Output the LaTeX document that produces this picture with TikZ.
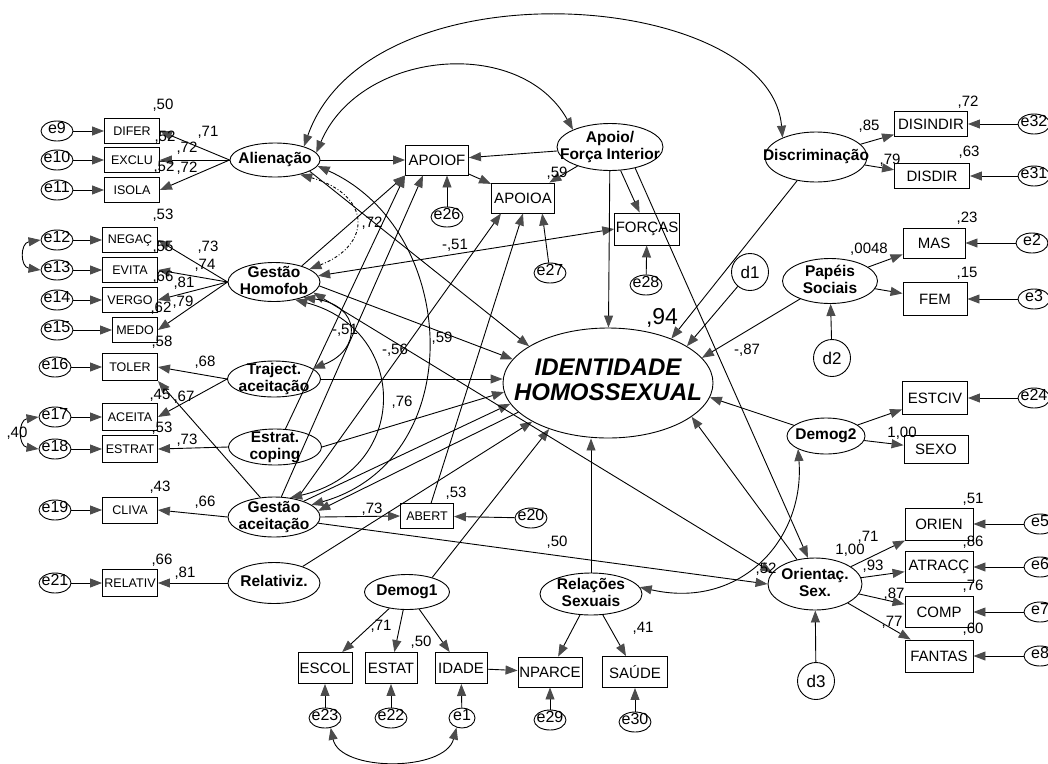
\documentclass[tikz,border=0pt]{standalone}
\usepackage{fontspec}
\setmainfont{Liberation Sans}
\usetikzlibrary{arrows.meta,positioning,shapes.geometric,calc}
\newcommand{\fsz}[1]{\fontsize{#1}{#1}\selectfont}
\newcommand{\inl}[1]{\makebox[0pt]{\smash{\raisebox{-.25em}{\begin{tabular}{@{}c@{}}#1\end{tabular}}}}}

\begin{document}
\begin{tikzpicture}[x=1pt, y=-1pt, line width=0.9pt,
  obs/.style={draw, rectangle, inner sep=1pt, minimum width=55pt, minimum height=25pt, font=\fsz{12.5}},
  wobs/.style={draw, rectangle, inner sep=1pt, minimum width=64pt, minimum height=31pt, font=\fsz{15}},
  lat/.style={draw, ellipse, inner sep=0pt, font=\bfseries\fontsize{15.5}{17.5}\selectfont},
  err/.style={draw, ellipse, inner sep=0pt, minimum width=32pt, minimum height=20pt, font=\fsz{16}},
  dist/.style={draw, circle, inner sep=0pt, minimum size=37pt, font=\fsz{17}},
  num/.style={inner sep=0pt, font=\fsz{15}},
  arr/.style={-{Triangle[length=12pt,width=9pt,color=black!70]}},
  dbl/.style={{Triangle[length=12pt,width=9pt,color=black!70]}-{Triangle[length=12pt,width=9pt,color=black!70]}}
]
\useasboundingbox (0,0) rectangle (1048,763);

% left indicators
\node[err] (e9) at (57,131) {\inl{e9}};
\node[err] (e10) at (57,160) {\inl{e10}};
\node[err] (e11) at (57,190) {\inl{e11}};
\node[err] (e12) at (57,240) {\inl{e12}};
\node[err] (e13) at (57,270) {\inl{e13}};
\node[err] (e14) at (57,300) {\inl{e14}};
\node[err] (e15) at (57,330) {\inl{e15}};
\node[err] (e16) at (55,367) {\inl{e16}};
\node[err] (e17) at (55,417) {\inl{e17}};
\node[err] (e18) at (55,449) {\inl{e18}};
\node[err] (e19) at (55,510) {\inl{e19}};
\node[err] (e21) at (55,583) {\inl{e21}};

\node[obs] (difer) at (132,131) {DIFER};
\node[obs] (exclu) at (132,160) {EXCLU};
\node[obs] (isola) at (132,190) {ISOLA};
\node[obs] (negac) at (130,240) {NEGAÇ};
\node[obs] (evita) at (130,270) {EVITA};
\node[obs] (vergo) at (130,300) {VERGO};
\node[obs, minimum width=45pt] (medo) at (135,330) {MEDO};
\node[obs, minimum height=27pt] (toler) at (130,367) {TOLER};
\node[obs, minimum height=27pt] (aceita) at (130,417) {ACEITA};
\node[obs, minimum height=27pt] (estrat) at (130,449) {ESTRAT};
\node[obs, minimum height=26pt] (cliva) at (130,510) {CLIVA};
\node[obs, minimum height=27pt] (relativ) at (130,583) {RELATIV};

\node[lat, minimum width=90pt, minimum height=34pt] (alien) at (275,160) {\inl{Alienação}};
\node[lat, minimum width=92pt, minimum height=39pt] (gesthom) at (274,282) {\inl{Gestão\\Homofob}};
\node[lat, minimum width=93pt, minimum height=36pt] (traj) at (274,379) {\inl{Traject.\\aceitação}};
\node[lat, minimum width=93pt, minimum height=36pt] (estcop) at (275,447) {\inl{Estrat.\\coping}};
\node[lat, minimum width=92pt, minimum height=40pt] (gestac) at (274,517) {\inl{Gestão\\aceitação}};
\node[lat, minimum width=92pt, minimum height=41pt] (relz) at (274,583) {\inl{Relativiz.}};

% middle
\node[wobs, minimum width=63pt, minimum height=30pt] (apoiof) at (437,160) {APOIOF};
\node[err] (e26) at (447,217) {\inl{e26}};
\node[wobs, minimum width=63pt, minimum height=30pt] (apoioa) at (523,198) {APOIOA};
\node[err] (e27) at (550,273) {\inl{e27}};
\node[lat, minimum width=106pt, minimum height=47pt] (apoio) at (610,147) {\inl{Apoio/\\Força Interior}};
\node[wobs, minimum width=63pt, minimum height=32pt] (forcas) at (647,229) {FORÇAS};
\node[err] (e28) at (646,285) {\inl{e28}};
\node[lat, minimum width=210pt, minimum height=110pt, font=\bfseries\itshape\fontsize{24}{25}\selectfont] (ident) at (608,383) {\inl{IDENTIDADE\\HOMOSSEXUAL}};
\node[obs, minimum width=53pt] (abert) at (427,516) {ABERT};
\node[err] (e20) at (531,518) {\inl{e20}};

% right
\node[lat, minimum width=102pt, minimum height=50pt] (disc) at (816,157) {\inl{Discriminação}};
\node[wobs, minimum width=73pt, minimum height=25pt] (disindir) at (931,124) {DISINDIR};
\node[wobs, minimum width=75pt, minimum height=25pt] (disdir) at (932,176) {DISDIR};
\node[err] (e32) at (1034,124) {\inl{e32}};
\node[err] (e31) at (1034,176) {\inl{e31}};
\node[wobs, minimum width=62pt, minimum height=30pt] (mas) at (934,243) {MAS};
\node[err] (e2) at (1032,243) {\inl{e2}};
\node[lat, minimum width=95pt, minimum height=45pt] (papeis) at (830,281) {\inl{Papéis\\Sociais}};
\node[wobs, minimum width=64pt, minimum height=33pt] (fem) at (935,299) {FEM};
\node[err] (e3) at (1034,299) {\inl{e3}};
\node[dist] (d1) at (750,272) {d1};
\node[dist] (d2) at (832,358) {d2};
\node[wobs, minimum width=65pt, minimum height=33pt] (estciv) at (935,398) {ESTCIV};
\node[err] (e24) at (1034,398) {\inl{e24}};
\node[wobs, minimum width=64pt, minimum height=28pt] (sexo) at (936,449) {SEXO};
\node[lat, minimum width=78pt, minimum height=36pt] (dem2) at (826,436) {\inl{Demog2}};
\node[lat, minimum width=94pt, minimum height=52pt] (orsex) at (815,584) {\inl{Orientaç.\\Sex.}};
\node[dist] (d3) at (816,681) {d3};
\node[wobs, minimum width=68pt, minimum height=32pt] (orien) at (939,524) {ORIEN};
\node[wobs, minimum width=68pt, minimum height=31pt] (atracc) at (939,567) {ATRACÇ};
\node[wobs, minimum width=68pt, minimum height=31pt] (comp) at (939,612) {COMP};
\node[wobs, minimum width=68pt, minimum height=32pt] (fantas) at (939,656) {FANTAS};
\node[err] (e5) at (1040,524) {\inl{e5}};
\node[err] (e6) at (1040,567) {\inl{e6}};
\node[err] (e7) at (1040,612) {\inl{e7}};
\node[err] (e8) at (1040,656) {\inl{e8}};

% bottom
\node[lat, minimum width=85pt, minimum height=35pt] (dem1) at (407,592) {\inl{Demog1}};
\node[wobs, minimum width=54pt] (escol) at (325,668) {ESCOL};
\node[wobs, minimum width=52pt] (estat) at (391,668) {ESTAT};
\node[wobs, minimum width=52pt] (idade) at (461,668) {IDADE};
\node[wobs, minimum width=64pt, minimum height=30pt] (nparce) at (550,672) {NPARCE};
\node[wobs, minimum width=65pt] (saude) at (635,672) {SAÚDE};
\node[lat, minimum width=102pt, minimum height=42pt] (relsex) at (591,594) {\inl{Relações\\Sexuais}};
\node[err] (e23) at (325,718) {\inl{e23}};
\node[err] (e22) at (391,718) {\inl{e22}};
\node[err, minimum width=26pt] (e1) at (462,718) {\inl{e1}};
\node[err] (e29) at (550,720) {\inl{e29}};
\node[err] (e30) at (635,722) {\inl{e30}};

% error terms
\draw[arr] (e9) -- (difer);
\draw[arr] (e10) -- (exclu);
\draw[arr] (e11) -- (isola);
\draw[arr] (e12) -- (negac);
\draw[arr] (e13) -- (evita);
\draw[arr] (e14) -- (vergo);
\draw[arr] (e15) -- (medo);
\draw[arr] (e16) -- (toler);
\draw[arr] (e17) -- (aceita);
\draw[arr] (e18) -- (estrat);
\draw[arr] (e19) -- (cliva);
\draw[arr] (e21) -- (relativ);
\draw[arr] (e26) -- (e26 |- apoiof.south);
\draw[arr] (e27) -- ($(apoioa.south)!0.6!(apoioa.south east)$);
\draw[arr] (e28) -- (forcas);
\draw[arr] (e20) -- (abert);
\draw[arr] (e32) -- (disindir);
\draw[arr] (e31) -- (disdir);
\draw[arr] (e2) -- (mas);
\draw[arr] (e3) -- (fem);
\draw[arr] (e24) -- (estciv);
\draw[arr] (e5) -- (orien);
\draw[arr] (e6) -- (atracc);
\draw[arr] (e7) -- (comp);
\draw[arr] (e8) -- (fantas);
\draw[arr] (e23) -- (escol);
\draw[arr] (e22) -- (estat);
\draw[arr] (e1) -- (idade);
\draw[arr] (e29) -- (nparce);
\draw[arr] (e30) -- (saude);
\draw[arr] (d1) -- (ident.25);
\draw[arr] (d2) -- (papeis);
\draw[arr] (d3) -- (orsex);

% measurement paths
\draw[arr] (alien.west) -- (difer.east);
\draw[arr] (alien.west) -- (exclu.east);
\draw[arr] (alien.west) -- (isola.east);
\draw[arr] (gesthom.west) -- (negac.east);
\draw[arr] (gesthom.west) -- (evita.east);
\draw[arr] (gesthom.west) -- (vergo.east);
\draw[arr] (gesthom.west) -- (medo.east);
\draw[arr] (traj.west) -- (toler.east);
\draw[arr] (traj.west) -- (aceita.east);
\draw[arr] (gestac.125) -- (toler.south east);
\draw[arr] (estcop.west) -- (estrat.east);
\draw[arr] (gestac.west) -- (cliva.east);
\draw[arr] (relz.west) -- (relativ.east);
\draw[arr] (apoio) -- (apoiof);
\draw[arr] (apoio) -- (apoioa);
\draw[arr] (apoio) -- (forcas);
\draw[arr] (apoiof) -- (apoioa);
\draw[arr] (disc) -- (disindir);
\draw[arr] (disc) -- (disdir);
\draw[arr] (papeis) -- (mas);
\draw[arr] (papeis) -- (fem);
\draw[arr] (dem2) -- (estciv);
\draw[arr] (dem2) -- (sexo);
\draw[arr] (orsex) -- (orien);
\draw[arr] (orsex) -- (atracc);
\draw[arr] (orsex) -- (comp);
\draw[arr] (orsex) -- (fantas);
\draw[arr] (dem1) -- (escol);
\draw[arr] (dem1) -- (estat);
\draw[arr] (dem1) -- (idade);
\draw[arr] (idade) -- (nparce);
\draw[arr] (relsex) -- (nparce);
\draw[arr] (relsex) -- (saude);
\draw[arr] (gestac.east) -- (abert.west);

% structural paths
\draw[arr] (alien.east) -- (apoiof.west);
\draw[arr] (gesthom.30) -- (apoiof.south west);
\draw[arr] (estcop.60) -- (apoiof.south west);
\draw[arr] (gestac.70) -- ($(apoiof.south)+(-14,0)$);
\draw[arr] (gestac.38) -- ($(apoioa.south)+(-22,0)$);
\draw[arr] (abert) -- (apoioa.south);
\draw[dbl] (gesthom.8) -- (forcas.west);
\draw[arr] (alien.-18) -- (ident.155);
\draw[arr] (gesthom.-5) -- (ident.166);
\draw[arr] (traj.east) -- (traj.east -| ident.west);
\draw[arr] (estcop.east) -- (ident.185);
\draw[arr] (gestac.28) -- (ident.192);
\draw[arr] (ident.198) -- (gestac.8);
\draw[arr] (relz.30) -- (ident.207);
\draw[arr] (dem1.30) -- (ident.218);
\draw[arr] (apoio) -- (ident);
\draw[arr] (disc) -- (ident.35);
\draw[arr] (papeis) -- (ident.15);
\draw[arr] (dem2) -- (ident.-8);
\draw[arr] (orsex) -- (ident.-22);
\draw[arr] (relsex) -- (relsex |- ident.south);
\draw[arr] (apoio.-40) -- (orsex.105);
\draw[dbl] (gesthom.-15) -- (orsex.165);
\draw[arr] (gestac.-8) -- (orsex.west);

% covariances
\draw[dbl] (alien.10) .. controls (360,50) and (520,35) .. (apoio.155);
\draw[dbl] (alien.25) .. controls (370,-40) and (770,-10) .. (disc.150);
\draw[dbl, dash dot] (alien.-30) .. controls (372,195) and (372,245) .. (gesthom.20);
\draw[dbl] (gesthom.-28) .. controls (362,305) and (362,350) .. (traj.15);
\draw[dbl] (gesthom.-40) .. controls (410,330) and (410,470) .. (gestac.50);
\draw[dbl] (alien.-8) .. controls (460,230) and (470,460) .. (gestac.18);
\draw[dbl] (relsex.8) .. controls (740,610) and (805,540) .. (dem2.205);
\draw[dbl] (e12.west) .. controls (20,243) and (20,267) .. (e13.west);
\draw[dbl] (e17.west) .. controls (18,420) and (18,446) .. (e18.west);
\draw[dbl] (e23.-60) .. controls (340,772) and (445,772) .. (e1.-120);

% estimates, left
\node[num] (r2difer) at (163,105) {,50};
\node[num] (r2exclu) at (165,137) {,52};
\node[num] (r2isola) at (164,167) {,52};
\node[num] (r2negac) at (163,215) {,53};
\node[num] (r2evita) at (163,247) {,55};
\node[num] (r2vergo) at (163,277) {,66};
\node[num] (r2medo) at (161,308) {,62};
\node[num] (r2toler) at (162,342) {,58};
\node[num] (r2aceita) at (160,395) {,45};
\node[num] (r2estrat) at (162,428) {,53};
\node[num] (r2cliva) at (160,487) {,43};
\node[num] (r2relativ) at (162,560) {,66};
\node[num] (ldifer) at (208,132) {,71};
\node[num] (lexclu) at (187,148) {,72};
\node[num] (lisola) at (187,168) {,72};
\node[num] (lnegac) at (208,247) {,73};
\node[num] (levita) at (205,265) {,74};
\node[num] (lvergo) at (184,283) {,81};
\node[num] (lmedo) at (183,302) {,79};
\node[num] (ltoler) at (205,362) {,68};
\node[num] (ltolerb) at (184,397) {,67};
\node[num] (lestrat) at (187,440) {,73};
\node[num] (cov1718) at (17,433) {,40};
\node[num] (lcliva) at (205,502) {,66};
\node[num] (lrelativ) at (185,573) {,81};

% estimates, middle
\node[num] (calgh) at (372,223) {,72};
\node[num] (cghforcas) at (455,245) {-,51};
\node[num] (cghtraj) at (345,330) {-,51};
\node[num] (cghorsex) at (395,350) {-,56};
\node[num] (bghid) at (442,338) {,59};
\node[num] (cghga) at (402,402) {,76};
\node[num] (lapoioa) at (557,173) {,59};
\node[num, font=\fsz{23}] (r2ident) at (662,318) {,94};
\node[num] (bpapid) at (747,350) {-,87};
\node[num] (r2abert) at (456,493) {,53};
\node[num] (labert) at (372,509) {,73};
\node[num] (bgaor) at (557,542) {,50};
\node[num] (lestat) at (381,626) {,71};
\node[num] (r2estat) at (421,642) {,50};
\node[num] (lsaude) at (643,628) {,41};

% estimates, right
\node[num] (r2disindir) at (968,102) {,72};
\node[num] (ldisindir) at (869,126) {,85};
\node[num] (r2disdir) at (969,152) {,63};
\node[num] (ldisdir) at (890,160) {,79};
\node[num] (r2mas) at (967,218) {,23};
\node[num] (lmas) at (869,249) {,0048};
\node[num] (r2fem) at (967,273) {,15};
\node[num] (lsexo) at (902,433) {1,00};
\node[num] (r2orien) at (973,499) {,51};
\node[num] (lorien) at (850,550) {1,00};
\node[num] (lorienb) at (868,537) {,71};
\node[num] (latracc) at (873,566) {,93};
\node[num] (r2atracc) at (973,542) {,86};
\node[num] (lcomp) at (894,594) {,87};
\node[num] (r2comp) at (973,586) {,76};
\node[num] (lfantas) at (892,622) {,77};
\node[num] (r2fantas) at (973,629) {,60};
\node[num] (r2orsex) at (766,569) {,52};
\end{tikzpicture}
\end{document}
